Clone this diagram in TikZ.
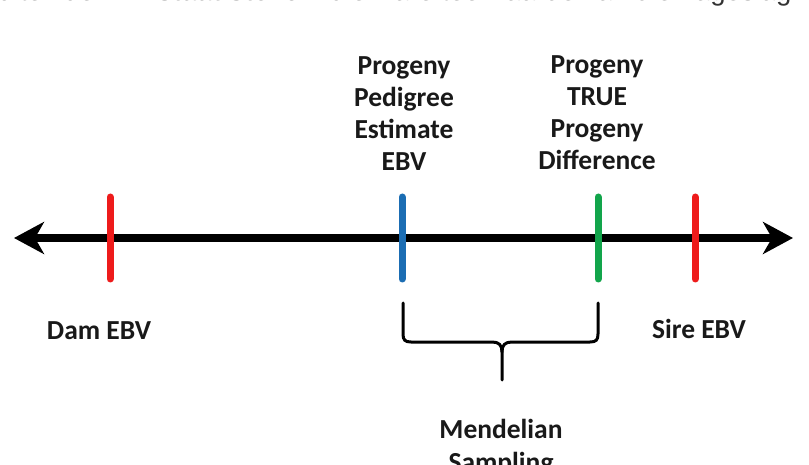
\documentclass[tikz,border=0pt]{standalone}
\usepackage{fontspec}
\setmainfont{Carlito}
\newfontfamily\topfont{Liberation Sans}
\usetikzlibrary{arrows.meta}
\definecolor{tickred}{HTML}{EE1B1B}
\definecolor{tickblue}{HTML}{1B6DB3}
\definecolor{tickgreen}{HTML}{12A54B}
\begin{document}
\begin{tikzpicture}[x=1pt,y=-1pt,
  lbl/.style={font=\fontsize{27.5}{32.3}\selectfont\bfseries, align=center, inner sep=0pt, text=black!90},
  tickmark/.style={line width=7pt, line cap=round},
  axisline/.style={line width=8pt, {Stealth[length=30pt,width=32pt,inset=9pt]}-{Stealth[length=30pt,width=32pt,inset=9pt]}},
  bracepath/.style={line width=3pt, line join=round, line cap=round},
  toptext/.style={font=\topfont\fontsize{27.5}{27.5}\selectfont, anchor=base west, inner sep=0pt, text=black!80}]
\useasboundingbox (0,0) rectangle (809,465);
\clip (0,0) rectangle (809,465);
\fill[white] (0,0) rectangle (809,465);
% cropped line of text at the top
\node[toptext] (top) at (-2,1) {uiteindelik in \textbf{staat stel} om die ware teelwaarde van die nageslag};
% axis
\coordinate (L) at (14,238);
\coordinate (R) at (793,238);
\draw[axisline] (L) -- (R);
% ticks
\coordinate (damT) at (110,197);   \coordinate (damB) at (110,279);
\coordinate (pedT) at (402,197);   \coordinate (pedB) at (402,279);
\coordinate (trueT) at (598,197);  \coordinate (trueB) at (598,279);
\coordinate (sireT) at (695,197);  \coordinate (sireB) at (695,279);
\draw[tickmark, tickred] (damT) -- (damB);
\draw[tickmark, tickblue] (pedT) -- (pedB);
\draw[tickmark, tickgreen] (trueT) -- (trueB);
\draw[tickmark, tickred] (sireT) -- (sireB);
% labels (base = baseline of the last line)
\node[lbl, anchor=base] (pedlbl) at (404,171) {Progeny\\Pedigree\\Estimate\\EBV};
\node[lbl, anchor=base] (truelbl) at (597,170) {Progeny\\TRUE\\Progeny\\Difference};
\node[lbl, anchor=base] (damlbl) at (99,339) {Dam EBV};
\node[lbl, anchor=base] (sirelbl) at (699,338) {Sire EBV};
\node[lbl, anchor=base] (mslbl) at (501,471) {Mendelian\\Sampling};
% brace
\coordinate (bl) at (403,303);
\coordinate (br) at (598,303);
\coordinate (bm) at (502,352);
\coordinate (btip) at (502,380);
\draw[bracepath] (bl) -- (403,334) .. controls (403,340) and (405,342) .. (411,342) -- (492,342) .. controls (499,342) and (502,345) .. (bm) -- (btip);
\draw[bracepath] (br) -- (598,334) .. controls (598,340) and (596,342) .. (590,342) -- (512,342) .. controls (505,342) and (502,345) .. (bm);
\end{tikzpicture}
\end{document}
